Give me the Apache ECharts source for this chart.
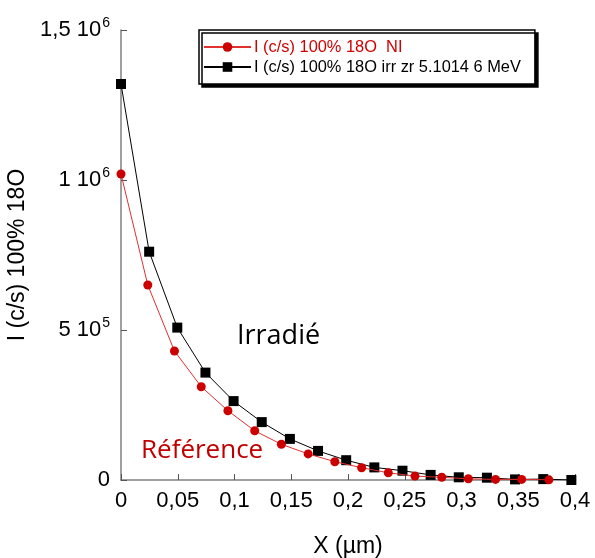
<!DOCTYPE html>
<html><head><meta charset="utf-8">
<script src="https://cdn.jsdelivr.net/npm/echarts@6/dist/echarts.min.js"></script>
<style>html,body{margin:0;padding:0;background:#fff}#c{width:595px;height:558px}</style>
</head><body><div id="c"></div>
<script>
// Red series: non-irradiated reference
const xRed = [0, 0.0236, 0.0471, 0.0707, 0.0942, 0.1178, 0.1413, 0.1649, 0.1884, 0.212, 0.2355, 0.259, 0.2826, 0.306, 0.33, 0.353, 0.377];
const yRed = [1020000, 650000, 430000, 311000, 231000, 164000, 119000, 87000, 61000, 41000, 24000, 13000, 9000, 4000, 2000, 2000, 500];
// Black series: irradiated
const xBlack = [0, 0.0248, 0.0496, 0.0744, 0.0992, 0.124, 0.1488, 0.1736, 0.1984, 0.2232, 0.248, 0.2728, 0.2976, 0.3224, 0.3472, 0.372, 0.3968];
const yBlack = [1320000, 761000, 508000, 358000, 263000, 193000, 137000, 97000, 66000, 42000, 31000, 17000, 9000, 7700, 2000, 3000, 0];
const xTicks = ['0', '0,05', '0,1', '0,15', '0,2', '0,25', '0,3', '0,35', '0,4'];
const yTicks = ['{b|0}', '{b|5 10}{s|5}', '{b|1 10}{s|6}', '{b|1,5 10}{s|6}'];
const nameRed = 'I (c/s) 100% 18O  NI';
const nameBlack = 'I (c/s) 100% 18O irr zr 5.1014 6 MeV';

const chart = echarts.init(document.getElementById('c'), null, {renderer: 'canvas'});
const font = 'Liberation Sans, Arial, sans-serif';
chart.setOption({
  animation: false,
  backgroundColor: '#fff',
  grid: {left: 121, right: 20, top: 30, bottom: 78, containLabel: false, outerBoundsMode: 'none'},
  legend: {
    orient: 'vertical', left: 199, top: 30,
    backgroundColor: '#fff', borderColor: '#000', borderWidth: 1.5,
    shadowColor: '#000', shadowOffsetX: 3, shadowOffsetY: 3, shadowBlur: 0,
    padding: [9, 14, 9, 4], itemGap: 4, itemWidth: 47, itemHeight: 12,
    textStyle: {fontFamily: font, fontSize: 16.4, padding: [0, 0, 0, -2]},
    data: [
      {name: nameRed, textStyle: {color: '#d00000'}},
      {name: nameBlack, textStyle: {color: '#000'}}
    ]
  },
  xAxis: {
    type: 'value', min: 0, max: 0.4, interval: 0.05,
    name: 'X (µm)', nameLocation: 'middle', nameGap: 55,
    nameTextStyle: {fontFamily: font, fontSize: 23, color: '#000'},
    axisLine: {onZero: false, lineStyle: {color: '#808080', width: 1.5}},
    axisTick: {inside: true, length: 6, lineStyle: {color: '#555'}},
    axisLabel: {fontFamily: font, fontSize: 22, color: '#000', margin: 10,
      formatter: (v) => xTicks[Math.round(v / 0.05)]},
    splitLine: {show: false}
  },
  yAxis: {
    type: 'value', min: 0, max: 1500000, interval: 500000,
    name: 'I (c/s) 100% 18O', nameLocation: 'middle', nameGap: 88,
    nameTextStyle: {fontFamily: font, fontSize: 23, color: '#000'},
    axisLine: {onZero: false, lineStyle: {color: '#808080', width: 1.5}},
    axisTick: {inside: true, length: 6, lineStyle: {color: '#555'}},
    axisLabel: {margin: 11, color: '#000',
      formatter: (v) => yTicks[Math.round(v / 500000)],
      rich: {
        b: {fontFamily: font, fontSize: 22, color: '#000'},
        s: {fontFamily: font, fontSize: 14, color: '#000', padding: [0, 0, 14, 1]}
      }},
    splitLine: {show: false}
  },
  series: [
    {
      name: nameRed, type: 'line', data: xRed.map((x, i) => [x, yRed[i]]),
      symbol: 'circle', symbolSize: 9, z: 3,
      lineStyle: {color: '#e03030', width: 1},
      itemStyle: {color: '#cc0000'}
    },
    {
      name: nameBlack, type: 'line', data: xBlack.map((x, i) => [x, yBlack[i]]),
      symbol: 'rect', symbolSize: 10, z: 2,
      lineStyle: {color: '#000', width: 1},
      itemStyle: {color: '#000'}
    }
  ],
  graphic: [
    {type: 'text', x: 237, y: 336, style: {text: 'Irradié', fontFamily: 'Open Sans, sans-serif', fontSize: 27, fill: '#000', verticalAlign: 'middle'}},
    {type: 'text', x: 141, y: 451, style: {text: 'Référence', fontFamily: 'Open Sans, sans-serif', fontSize: 26, fill: '#c00000', verticalAlign: 'middle'}}
  ]
});
</script></body></html>
